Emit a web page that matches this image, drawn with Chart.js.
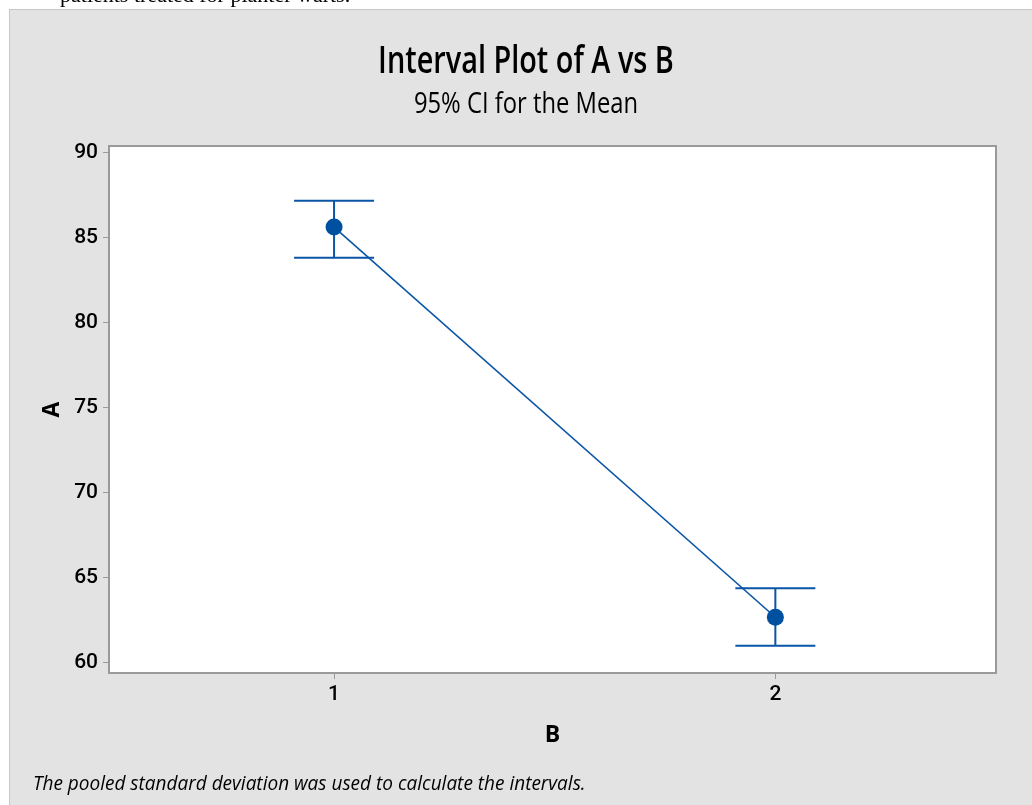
<!DOCTYPE html>
<html>
<head>
<meta charset="utf-8">
<title>Interval Plot of A vs B</title>
<script src="https://cdn.jsdelivr.net/npm/chart.js@4.4.1/dist/chart.umd.min.js"></script>
<style>
  html, body { margin: 0; padding: 0; background: #fff; }
  canvas { display: block; }
</style>
</head>
<body>
<canvas id="chart" width="1032" height="805"></canvas>
<script>
// group values (x) and the 95% CI
const groups = [1, 2];
const means = [85.6, 62.65];
const ciLower = [83.8, 60.98];
const ciUpper = [87.15, 64.35];
const yTicks = [60, 65, 70, 75, 80, 85, 90];

const SANS = "'Open Sans', 'Noto Sans', sans-serif";
const TICK_FONT = "Roboto, 'Open Sans', sans-serif";
const BLUE = "#0a55a6";
const FRAME = "#9a9a9a";

// the original uses a narrow face, squeeze the text horizontally
function narrowText(ctx, text, x, y, font, sx, align) {
  ctx.save();
  ctx.font = font;
  ctx.textAlign = align;
  ctx.textBaseline = "alphabetic";
  ctx.translate(x, y);
  ctx.scale(sx, 1);
  ctx.fillText(text, 0, 0);
  ctx.restore();
}

const panelPlugin = {
  id: "panel",
  beforeDraw(chart) {
    const { ctx, chartArea } = chart;
    ctx.save();
    ctx.fillStyle = "#fff";
    ctx.fillRect(0, 0, chart.width, chart.height);

    // bit of document text cut off above the figure
    ctx.fillStyle = "#000";
    ctx.font = "22px 'Liberation Serif', serif";
    ctx.textBaseline = "alphabetic";
    ctx.textAlign = "left";
    ctx.fillText("patients treated for planter warts.", 60, 2);

    ctx.fillStyle = "#e3e3e3";
    ctx.fillRect(9, 9, chart.width - 9, chart.height - 9);
    ctx.strokeStyle = "#c8c8c8";
    ctx.lineWidth = 1;
    ctx.strokeRect(9.5, 9.5, chart.width, chart.height);

    ctx.fillStyle = "#fff";
    ctx.fillRect(chartArea.left, chartArea.top, chartArea.width, chartArea.height);

    ctx.fillStyle = "#000";
    narrowText(ctx, "Interval Plot of A vs B", 526, 73, "600 37px " + SANS, 0.78, "center");
    narrowText(ctx, "95% CI for the Mean", 526, 113, "500 29px " + SANS, 0.82, "center");
    narrowText(ctx, "The pooled standard deviation was used to calculate the intervals.",
      33, 790, "italic 20px " + SANS, 0.95, "left");
    ctx.restore();
  },
  beforeDatasetsDraw(chart) {
    const { ctx, chartArea, scales } = chart;
    ctx.save();
    ctx.strokeStyle = FRAME;
    ctx.lineWidth = 2;
    ctx.strokeRect(chartArea.left, chartArea.top, chartArea.width, chartArea.height);

    ctx.strokeStyle = BLUE;
    ctx.lineWidth = 2;
    groups.forEach((g, i) => {
      const x = scales.x.getPixelForValue(g);
      const yLo = scales.y.getPixelForValue(ciLower[i]);
      const yHi = scales.y.getPixelForValue(ciUpper[i]);
      ctx.beginPath();
      ctx.moveTo(x, yLo);
      ctx.lineTo(x, yHi);
      ctx.moveTo(x - 40, yLo);
      ctx.lineTo(x + 40, yLo);
      ctx.moveTo(x - 40, yHi);
      ctx.lineTo(x + 40, yHi);
      ctx.stroke();
    });
    ctx.restore();
  },
};

new Chart(document.getElementById("chart"), {
  type: "line",
  data: {
    datasets: [
      {
        data: groups.map((g, i) => ({ x: g, y: means[i] })),
        borderColor: BLUE,
        borderWidth: 1.6,
        pointRadius: 8.5,
        pointBackgroundColor: "#0050a0",
        pointBorderColor: "#0050a0",
        pointBorderWidth: 0,
        tension: 0,
      },
    ],
  },
  options: {
    responsive: false,
    devicePixelRatio: 1,
    animation: false,
    layout: { padding: { top: 146, right: 36, bottom: 0, left: 0 } },
    plugins: {
      legend: { display: false },
      tooltip: { enabled: false },
    },
    scales: {
      x: {
        type: "linear",
        min: 0.49,
        max: 2.5,
        afterBuildTicks: (scale) => {
          scale.ticks = groups.map((v) => ({ value: v }));
        },
        afterFit: (scale) => {
          scale.height = 132;
        },
        grid: { drawOnChartArea: false, tickLength: 6, color: FRAME },
        border: { color: FRAME, width: 2 },
        ticks: { color: "#000", font: { family: TICK_FONT, size: 21, weight: "500" }, padding: 3 },
        title: {
          display: true,
          text: "B",
          color: "#000",
          font: { family: SANS, size: 23, weight: "bold" },
          padding: { bottom: 56 },
        },
      },
      y: {
        min: 59.37,
        max: 90.37,
        afterBuildTicks: (scale) => {
          scale.ticks = yTicks.map((v) => ({ value: v }));
        },
        afterFit: (scale) => {
          scale.width = 109;
        },
        grid: { drawOnChartArea: false, tickLength: 6, color: FRAME },
        border: { color: FRAME, width: 2 },
        ticks: { color: "#000", font: { family: TICK_FONT, size: 21, weight: "500" }, padding: 5 },
        title: {
          display: true,
          text: "A",
          color: "#000",
          font: { family: SANS, size: 23, weight: "bold" },
          padding: { top: 39 },
        },
      },
    },
  },
  plugins: [panelPlugin],
});
</script>
</body>
</html>
